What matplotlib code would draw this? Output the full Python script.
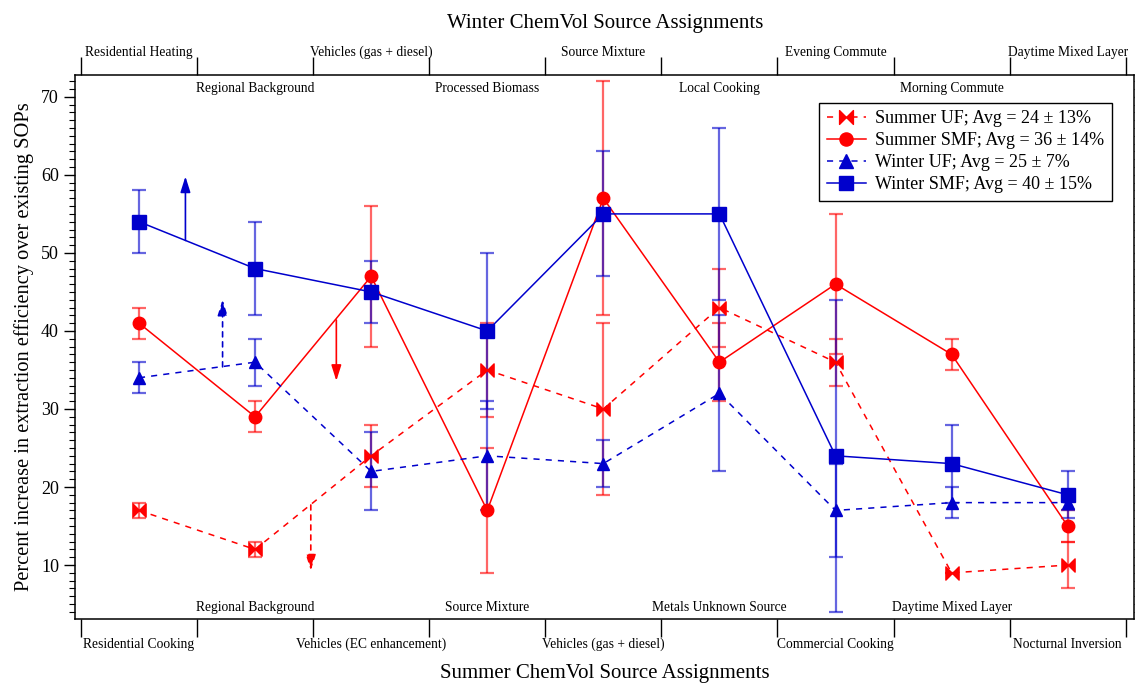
import numpy as np
import matplotlib.pyplot as plt
from matplotlib.path import Path

plt.rcParams['font.family'] = ['Liberation Serif', 'DejaVu Serif']

# source categories (positions 1..9)
x = np.arange(1, 10)

winter_outer = ["Residential Heating", "Vehicles (gas + diesel)", "Source Mixture",
                "Evening Commute", "Daytime Mixed Layer"]
winter_inner = ["Regional Background", "Processed Biomass", "Local Cooking",
                "Morning Commute"]
summer_outer = ["Residential Cooking", "Vehicles (EC enhancement)", "Vehicles (gas + diesel)",
                "Commercial Cooking", "Nocturnal Inversion"]
summer_inner = ["Regional Background", "Source Mixture", "Metals Unknown Source",
                "Daytime Mixed Layer"]

summer_uf = [17, 12, 24, 35, 30, 43, 36, 9, 10]
summer_uf_err = [1, 1, 4, 6, 11, 5, 3, 0, 3]
summer_smf = [41, 29, 47, 17, 57, 36, 46, 37, 15]
summer_smf_err = [2, 2, 9, 8, 15, 5, 9, 2, 2]
winter_uf = [34, 36, 22, 24, 23, 32, 17, 18, 18]
winter_uf_err = [2, 3, 5, 7, 3, 10, 6, 2, 1]
winter_smf = [54, 48, 45, 40, 55, 55, 24, 23, 19]
winter_smf_err = [4, 6, 4, 10, 8, 11, 20, 5, 3]

labels = ["Summer UF; Avg = 24 \u00b1 13%", "Summer SMF; Avg = 36 \u00b1 14%",
          "Winter UF; Avg = 25 \u00b1 7%", "Winter SMF; Avg = 40 \u00b1 15%"]

# shift arrows: (x, y_start, y_end)
arrows_winter_smf = (1.40, 51.6, 59.8)
arrows_winter_uf = (1.72, 35.4, 44.0)
arrows_summer_smf = (2.70, 41.4, 33.6)
arrows_summer_uf = (2.48, 17.7, 9.3)

RED = '#ff0000'
BLUE = '#0000cc'

# bowtie marker for the summer UF series
bowtie = Path([(-1, 1), (-1, -1), (0, 0), (1, -1), (1, 1), (0, 0), (-1, 1)],
              [Path.MOVETO, Path.LINETO, Path.LINETO, Path.LINETO, Path.LINETO,
               Path.LINETO, Path.CLOSEPOLY])

fig = plt.figure(figsize=(11.35, 6.85), dpi=100)
ax = fig.add_axes([0.066, 0.0965, 0.933, 0.7940])

def series(y, err, color, ls, marker, ms, label):
    ax.errorbar(x, y, yerr=err, fmt='none', ecolor=color, elinewidth=1.6,
                capsize=5, capthick=1.6, alpha=0.6, zorder=2)
    ax.plot(x, y, color=color, ls=ls, lw=1.1, marker=marker, ms=ms,
            mfc=color, mec=color, label=label, zorder=3,
            dashes=(4, 4) if ls == '--' else (None, None))

series(summer_uf, summer_uf_err, RED, '--', bowtie, 9.5, labels[0])
series(summer_smf, summer_smf_err, RED, '-', 'o', 9, labels[1])
series(winter_uf, winter_uf_err, BLUE, '--', '^', 9, labels[2])
series(winter_smf, winter_smf_err, BLUE, '-', 's', 9.5, labels[3])

def shift_arrow(a, color, ls):
    ax.annotate('', xy=(a[0], a[2]), xytext=(a[0], a[1]),
                arrowprops=dict(arrowstyle='-|>,head_length=0.95,head_width=0.3',
                                color=color, lw=1.2, ls=ls, shrinkA=0, shrinkB=0),
                zorder=4)

shift_arrow(arrows_winter_smf, BLUE, '-')
shift_arrow(arrows_winter_uf, BLUE, (0, (3, 3)))
shift_arrow(arrows_summer_smf, RED, '-')
shift_arrow(arrows_summer_uf, RED, (0, (3, 3)))

ax.set_xlim(0.448, 9.57)
ax.set_ylim(3.1, 72.8)

# category boundaries as ticks on top and bottom
ax.set_xticks(np.arange(0.5, 10, 1.0))
ax.set_xticklabels([])
ax.tick_params(axis='x', which='both', direction='out', length=13, width=1,
               top=True, bottom=True)

ax.set_yticks(np.arange(10, 71, 10))
ax.set_yticks(np.arange(4, 73, 1), minor=True)
ax.tick_params(axis='y', which='major', direction='out', length=8, width=1,
               labelsize=13, left=True, right=True)
ax.tick_params(axis='y', which='minor', direction='out', length=4, width=0.8,
               left=True, right=True)
for s in ax.spines.values():
    s.set_linewidth(1.1)

# category names, two staggered rows per season
tr = ax.get_xaxis_transform()
for i, name in enumerate(winter_outer):
    ax.text(1 + 2 * i, 1.035, name, transform=tr, ha='center', va='baseline',
            fontsize=9.75, clip_on=False)
for i, name in enumerate(winter_inner):
    ax.text(2 + 2 * i, 0.969, name, transform=tr, ha='center', va='baseline',
            fontsize=9.75)
for i, name in enumerate(summer_outer):
    ax.text(1 + 2 * i, -0.0533, name, transform=tr, ha='center', va='baseline',
            fontsize=9.75, clip_on=False)
for i, name in enumerate(summer_inner):
    ax.text(2 + 2 * i, 0.0147, name, transform=tr, ha='center', va='baseline',
            fontsize=9.75)

fig.text(0.533, 0.959, "Winter ChemVol Source Assignments", ha='center',
         va='baseline', fontsize=15)
fig.text(0.533, 0.0095, "Summer ChemVol Source Assignments", ha='center',
         va='baseline', fontsize=15)
ax.set_ylabel("Percent increase in extraction efficiency over existing SOPs",
              fontsize=14.7, labelpad=5)

leg = ax.legend(loc='upper right', bbox_to_anchor=(0.979, 0.9485), fontsize=13,
                frameon=True, fancybox=False, framealpha=1, edgecolor='black',
                handlelength=2.2, handletextpad=0.5, borderpad=0.4,
                labelspacing=0.28, borderaxespad=0, markerscale=1.05)
leg.get_frame().set_linewidth(1.0)

fig.savefig('out.png', dpi=100)
